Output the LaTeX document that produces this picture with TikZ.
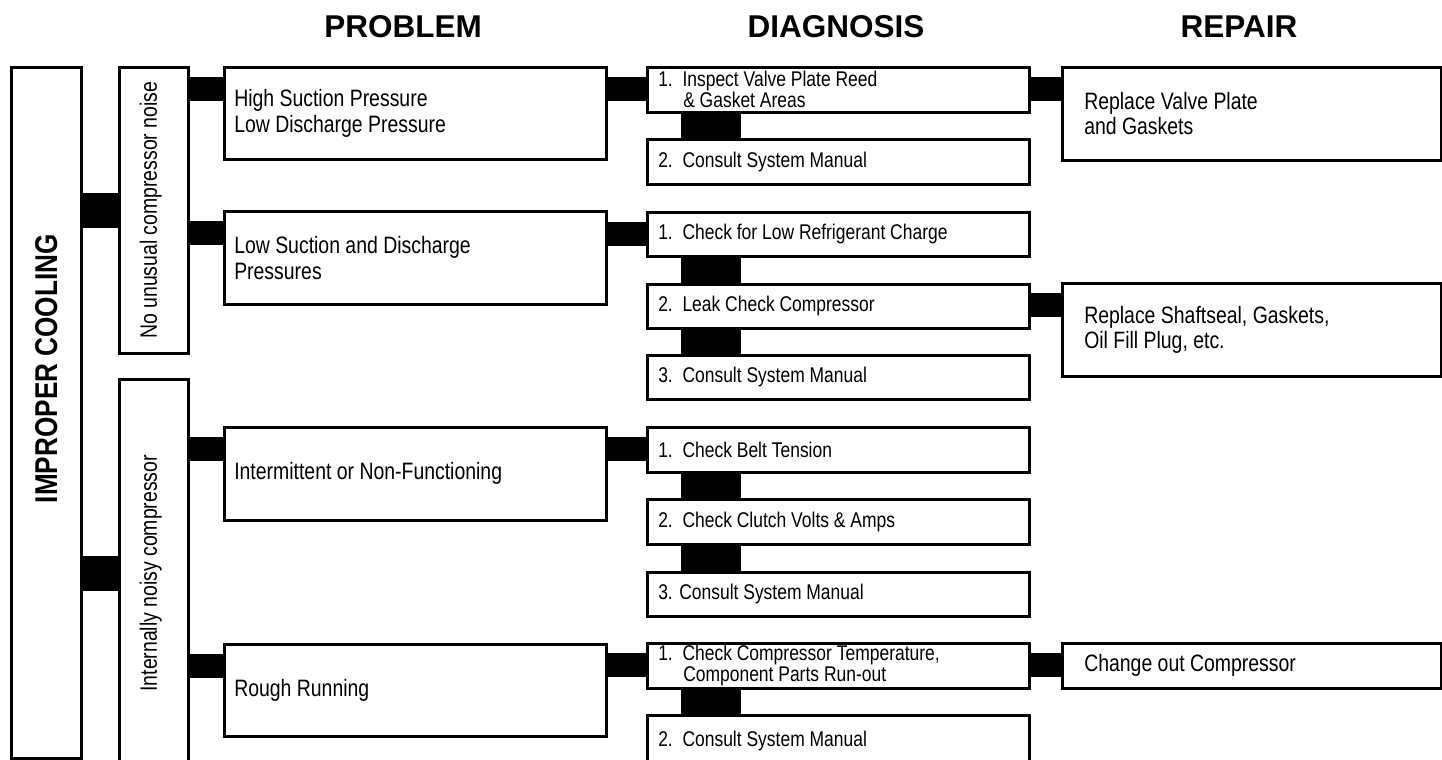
\documentclass[tikz,border=0pt]{standalone}
\usepackage{fontspec}
\newfontfamily\narrowfont[FakeStretch=0.82]{Liberation Sans}
\newfontfamily\headfont{Liberation Sans}
\newfontfamily\sidefont[FakeStretch=0.83]{Liberation Sans}

\tikzset{
  box/.style={draw=black, line width=2.5bp, fill=white, anchor=north west, inner ysep=0pt, align=flush left},
  prob/.style={box, font=\narrowfont\fontsize{23.7bp}{26bp}\selectfont, text width=362bp, inner xsep=10bp},
  diag/.style={box, font=\narrowfont\fontsize{21.3bp}{21bp}\selectfont, text width=360bp, inner xsep=11bp},
  rep/.style={box, font=\narrowfont\fontsize{23.7bp}{25bp}\selectfont, text width=335bp, inner xsep=22bp},
  side/.style={box, inner sep=0pt, minimum width=69bp, align=center, font=\narrowfont\fontsize{23.7bp}{26bp}\selectfont},
  head/.style={font=\headfont\bfseries\fontsize{31.5bp}{34bp}\selectfont, anchor=base, inner sep=0pt},
  link/.style={line width=24bp, black},
  fatlink/.style={line width=35bp, black},
  vlink/.style={line width=60bp, black},
}

\begin{document}
\begin{tikzpicture}[x=1bp, y=-1bp]
    \path[use as bounding box, fill=white] (0,0) rectangle (1442,759);
    \clip (0,0) rectangle (1442,759);

    % Column titles
    \node[head] (hp) at (403,38) {PROBLEM};
    \node[head] (hd) at (836,38) {DIAGNOSIS};
    \node[head] (hr) at (1239,38) {REPAIR};

    % Left side
    \node[box, inner sep=0pt, minimum width=70bp, minimum height=691bp] (imp) at (10,66) {};
    \node[font=\sidefont\bfseries\fontsize{31.5bp}{34bp}\selectfont, rotate=90, inner sep=0pt] (imptxt) at ([yshift=44bp]imp.center) {IMPROPER COOLING};
    \node[side, minimum height=286bp] (nu) at (118,66) {\hspace*{-6bp}\rotatebox{90}{No unusual compressor noise}};
    \node[side, minimum height=388bp] (nn) at (118,378) {\hspace*{-6bp}\rotatebox{90}{Internally noisy compressor}};

    % Problem
    \node[prob, minimum height=92bp] (hs) at (223,66) {High Suction Pressure\\Low Discharge Pressure};
    \node[prob, minimum height=93bp] (ls) at (223,210) {Low Suction and Discharge\\Pressures};
    \node[prob, minimum height=93bp] (im) at (223,426) {Intermittent or Non-Functioning};
    \node[prob, minimum height=92bp] (rr) at (223,643) {Rough Running};

    % Diagnosis
    \node[diag, minimum height=45bp] (d1) at (646,66) {1.\ \ Inspect Valve Plate Reed\\\hspace*{25bp}\& Gasket Areas};
    \node[diag, minimum height=45bp] (d2) at (646,138) {2.\ \ Consult System Manual};
    \node[diag, minimum height=44bp] (d3) at (646,211) {1.\ \ Check for Low Refrigerant Charge};
    \node[diag, minimum height=44bp] (d4) at (646,283) {2.\ \ Leak Check Compressor};
    \node[diag, minimum height=44bp] (d5) at (646,354) {3.\ \ Consult System Manual};
    \node[diag, minimum height=45bp] (d6) at (646,426) {1.\ \ Check Belt Tension};
    \node[diag, minimum height=45bp] (d7) at (646,498) {2.\ \ Check Clutch Volts \& Amps};
    \node[diag, minimum height=44bp] (d8) at (646,571) {3. Consult System Manual};
    \node[diag, minimum height=45bp] (d9) at (646,642) {1.\ \ Check Compressor Temperature,\\\hspace*{25bp}Component Parts Run-out};
    \node[diag, minimum height=52bp] (d10) at (646,714) {2.\ \ Consult System Manual};

    % Repair
    \node[rep, minimum height=93bp] (r1) at (1061,66) {Replace Valve Plate\\and Gaskets};
    \node[rep, minimum height=93bp] (r2) at (1061,282) {Replace Shaftseal, Gaskets,\\Oil Fill Plug, etc.};
    \node[rep, minimum height=45bp] (r3) at (1061,642) {Change out Compressor};

    % Connectors
    \foreach \b in {nu, nn}
        \draw[fatlink] (\b.west) -- (\b.west -| imp.east);
    \foreach \a/\b in {nu/hs, nu/ls, nn/im, nn/rr, hs/d1, ls/d3, im/d6, rr/d9, d1/r1, d4/r2, d9/r3}
        \draw[link] ([yshift=-23bp]\b.north west) coordinate (t) -- (t -| \a.east);
    \foreach \a/\b in {d1/d2, d3/d4, d4/d5, d6/d7, d7/d8, d9/d10}
        \draw[vlink] ([xshift=65bp]\a.south west) coordinate (t) -- (t |- \b.north);

\end{tikzpicture}
\end{document}
